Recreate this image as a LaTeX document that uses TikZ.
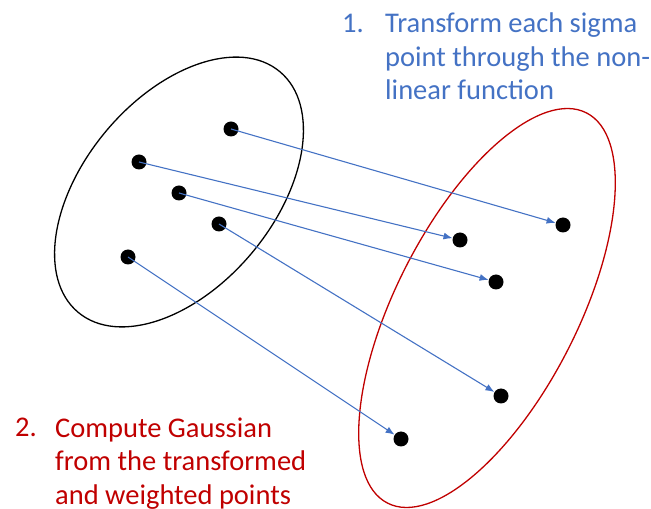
\documentclass[tikz,border=0pt]{standalone}
\usepackage{fontspec}
\setmainfont{Carlito}
\usetikzlibrary{arrows.meta}

\definecolor{ptblue}{RGB}{68,114,196}
\definecolor{ptred}{RGB}{192,0,0}

\begin{document}
\begin{tikzpicture}[x=1pt,y=1pt]
        \useasboundingbox (0,0) rectangle (651,509);

        \tikzstyle{dot}=[circle,fill=black,inner sep=0pt,minimum size=15pt]
        \tikzstyle{map}=[ptblue,line width=1.1pt,-{Latex[length=9pt,width=7pt]}]
        \tikzstyle{note}=[inner sep=0pt,anchor=base west,font=\fontsize{28.5}{33.5}\selectfont]

        % the two gaussians
        \draw[line width=1.3pt] (179,317) ellipse [x radius=157, y radius=95, rotate=50];
        \draw[ptred,line width=1.3pt] (487,201) ellipse [x radius=219, y radius=91, rotate=63];

        % sigma points and their images
        \foreach \n/\x/\y in {s1/231/380, s2/139/347, s3/179/316, s4/219/285, s5/128/252,
                              t1/563/284, t2/460/269, t3/496/227, t4/501/113, t5/401/70} {
            \node [dot] (\n) at (\x,\y) {};
        };

        \draw[map] (s1.center) -- (t1);  % 1->1
        \draw[map] (s2.center) -- (t2);  % 2->2
        \draw[map] (s3.center) -- (t3);  % 3->3
        \draw[map] (s4.center) -- (t4);  % 4->4
        \draw[map] (s5.center) -- (t5);  % 5->5

        % labels (base of a multi-line node is its last line)
        \node [note,ptblue] (num1) at (342,476) {1.};
        \node [note,ptblue,align=left] (step1) at (385,409) {Transform each sigma\\point through the non-\\linear function};
        \node [note,ptred] (num2) at (15,72) {2.};
        \node [note,ptred,align=left] (step2) at (55,5) {Compute Gaussian\\from the transformed\\and weighted points};
\end{tikzpicture}
\end{document}
